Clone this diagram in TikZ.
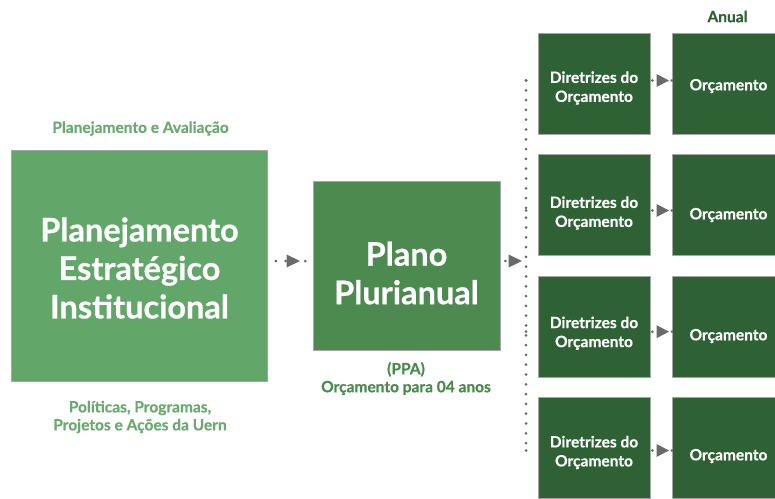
\documentclass[tikz,border=0pt]{standalone}
\usepackage{fontspec}
\setmainfont{Lato}[BoldFeatures={FakeBold=0.6}]
\usetikzlibrary{arrows.meta}
\definecolor{gLight}{HTML}{63A66A}
\definecolor{gMid}{HTML}{4C8A4F}
\definecolor{gDark}{HTML}{2E6133}
\definecolor{lblLight}{HTML}{6BAA6F}
\definecolor{lblMid}{HTML}{4A8A4E}
\definecolor{dotgray}{HTML}{6A6A6A}
\tikzset{
  box/.style={draw=black!35, line width=0.7pt, inner sep=0pt},
  bigbox/.style={box, fill=gLight, minimum width=256pt, minimum height=231pt},
  ppabox/.style={box, fill=gMid, minimum width=187pt, minimum height=169pt},
  smallbox/.style={box, fill=gDark, minimum width=112pt, minimum height=101pt},
  bigtxt/.style={text=white, align=center, inner sep=0pt, font=\fontsize{32.5}{38.5}\selectfont\bfseries},
  smalltxt/.style={text=white, align=center, inner sep=0pt, font=\fontsize{15.5}{19}\selectfont\bfseries},
  lbl/.style={font=\fontsize{15.5}{18}\selectfont\bfseries, align=center, inner sep=0pt},
  dotline/.style={draw=dotgray, line width=3pt, line cap=round, dash pattern=on 0pt off 9.8pt},
  tip/.style={fill=dotgray, draw=none},
}
\begin{document}
\begin{tikzpicture}[x=1pt,y=-1pt]
\useasboundingbox (0,0) rectangle (775,498);
% boxes
\node[bigbox] (pei) at (139.5,265.5) {};
\node[bigtxt] (peit) at (139.5,268) {Planejamento\\Estratégico\\Institucional};
\node[ppabox] (ppa) at (406.5,265.5) {};
\node[bigtxt] (ppat) at (406.5,273) {Plano\\Plurianual};
\foreach \i/\y/\t/\u in {1/84/88/86,2/205/213/215,3/326.5/333.2/336,4/448/452.5/456}{
  \node[smallbox] (d\i) at (594,\y) {};
  \node[smalltxt] (dt\i) at (594,\t) {Diretrizes do\\Orçamento};
  \node[smallbox] (o\i) at (728.5,\y) {};
  \node[smalltxt] (ot\i) at (728.5,\u) {Orçamento};
}
% labels
\node[lbl, text=lblLight] (la) at (140.5,128.5) {Planejamento e Avaliação};
\node[lbl, text=lblLight] (lb) at (140,417) {Políticas, Programas,\\Projetos e Ações da Uern};
\node[lbl, text=lblMid] (lc) at (406,378.5) {(PPA)\\Orçamento para 04 anos};
\node[lbl, text=gDark] (ld) at (727.5,16.5) {Anual};
% coordinates
\coordinate (a1) at (pei.east |- 0,261);
\coordinate (a2) at (ppa.west |- 0,261);
\coordinate (b1) at (ppa.east |- 0,261);
\coordinate (vt) at (526,80.5);
\coordinate (vb) at (526,450.5);
\coordinate (vm) at (526,261);
% dotted lines
\draw[dotline, shorten <=8pt] (a1) -- (a2);
\fill[tip] (286.5,254.5) -- (300,261) -- (286.5,267.5) -- cycle;
\draw[dotline, shorten <=5pt, shorten >=8pt] (b1) -- (vm);
\fill[tip] (508.5,254.5) -- (522,261) -- (508.5,267.5) -- cycle;
\draw[dotline] (vt) -- (vb);
\foreach \i/\y in {1/80.5,2/210.5,3/331.7,4/450.5}{
  \coordinate (h\i) at (526,\y);
  \draw[dotline] (h\i) -- ([xshift=-2pt]d\i.west |- h\i);
  \coordinate (e\i) at ([xshift=2pt]d\i.east |- 0,\y);
  \draw[dotline] (e\i) -- (o\i.west |- e\i);
  \fill[tip] (656.5,\y-6.5) -- (669,\y) -- (656.5,\y+6.5) -- cycle;
}
\end{tikzpicture}
\end{document}
